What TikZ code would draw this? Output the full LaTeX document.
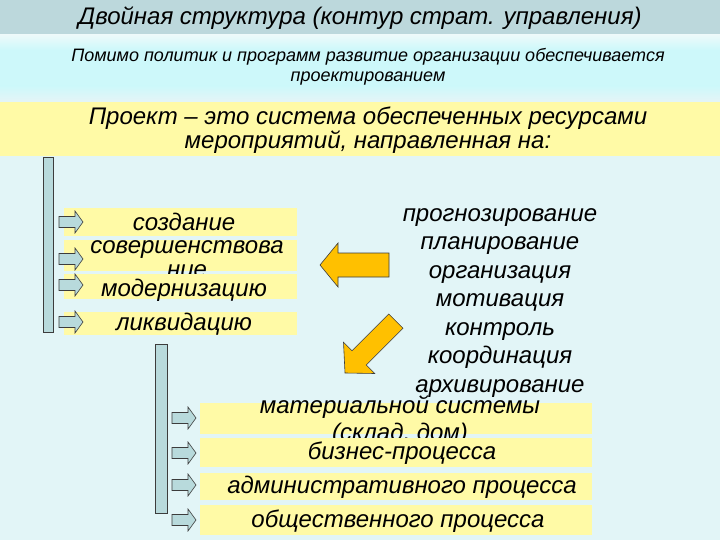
\documentclass[tikz,border=0pt]{standalone}
\usepackage{fontspec}
\setmainfont{Liberation Sans}
\definecolor{bg}{RGB}{226,245,247}
\definecolor{titlebg}{RGB}{188,216,220}
\definecolor{subbg}{RGB}{205,248,250}
\definecolor{subtop}{RGB}{236,250,250}
\definecolor{ylw}{RGB}{255,250,166}
\definecolor{barfill}{RGB}{184,218,220}
\definecolor{orng}{RGB}{255,192,0}
\definecolor{edge}{RGB}{60,60,60}
\tikzset{
  x=1pt, y=-1pt,
  txt/.style={inner sep=0pt, align=center, font=\itshape},
  ybox/.style={fill=ylw, draw=none},
  vbar/.style={fill=barfill, draw=edge, line width=0.8pt},
  sarrowstyle/.style={fill=barfill, draw=edge, line width=0.6pt, line join=miter},
  barrowstyle/.style={fill=orng, draw=edge, line width=0.6pt, line join=miter},
  sarrow/.pic={\path[sarrowstyle] (0,-5.5) -- (16,-5.5) -- (16,-11) -- (24,0) -- (16,11) -- (16,5.5) -- (0,5.5) -- cycle;},
  bigtxt/.style={txt, font=\itshape\fontsize{24}{22}\selectfont}
}
\begin{document}
\begin{tikzpicture}
\useasboundingbox (0,0) rectangle (720,540);
% backgrounds
\fill[bg] (0,0) rectangle (720,540);
\fill[titlebg] (0,0) rectangle (720,35);
\shade[top color=subtop, bottom color=subbg] (0,35) rectangle (720,50);
\fill[subbg] (0,50) rectangle (720,86);
\shade[top color=subbg, bottom color=bg] (0,86) rectangle (720,100);
\fill[ylw] (0,102) rectangle (720,156);
% title texts
\node[txt, font=\itshape\fontsize{24}{25}\selectfont] (title) at (360,18) {Двойная структура (контур страт. управления)};
\node[txt, font=\itshape\fontsize{18}{20}\selectfont] (sub) at (368,67) {Помимо политик и программ развитие организации обеспечивается\\проектированием};
\node[txt, font=\itshape\fontsize{24}{24}\selectfont] (proj) at (368,130) {Проект – это система обеспеченных ресурсами\\мероприятий, направленная на:};
% left bar
\draw[vbar] (43,157) rectangle (53,332);
% left boxes
\fill[ybox] (64,208) rectangle (297,236);
\node[bigtxt] (a1) at (184,222) {создание};
\fill[ybox] (64,240) rectangle (297,271);
\node[txt, font=\itshape\fontsize{24}{24}\selectfont] (a2) at (187,259) {совершенствова\\ние};
\fill[ybox] (64,274) rectangle (297,299);
\node[bigtxt] (a3) at (184,290) {модернизацию};
\fill[ybox] (64,312) rectangle (297,335);
\node[bigtxt] (a4) at (184,324) {ликвидацию};
% left arrows on top
\pic at (59,222) {sarrow};
\pic at (59,259) {sarrow};
\pic at (59,285) {sarrow};
\pic at (59,322) {sarrow};
% right list
\node[txt, font=\itshape\fontsize{24}{28.5}\selectfont] (list) at (500,303) {прогнозирование\\планирование\\организация\\мотивация\\контроль\\координация\\архивирование};
% big arrows
\path[barrowstyle] (389,253) -- (338,253) -- (338,243) -- (320,265) -- (338,287) -- (338,277) -- (389,277) -- cycle;
\path[barrowstyle] (345,373) -- (343.5,342.3) -- (352.0,350.8) -- (388.8,314.0) -- (403,328.2) -- (366.2,365.0) -- (374.7,373.5) -- cycle;
% lower bar and arrows
\draw[vbar] (155,344) rectangle (167,513);
\pic at (172,418) {sarrow};
\pic at (172,453) {sarrow};
\pic at (172,485) {sarrow};
\pic at (172,520) {sarrow};
% lower boxes
\fill[ybox] (200,403) rectangle (592,434);
\node[txt, font=\itshape\fontsize{24}{27}\selectfont] (b1) at (400,421) {материальной системы\\(склад, дом)};
\fill[ybox] (200,438) rectangle (592,467);
\node[bigtxt] (b2) at (402,453) {бизнес-процесса};
\fill[ybox] (200,473) rectangle (592,500);
\node[bigtxt] (b3) at (402,487) {административного процесса};
\fill[ybox] (200,505) rectangle (592,535);
\node[bigtxt] (b4) at (398,521) {общественного процесса};
\end{tikzpicture}
\end{document}
